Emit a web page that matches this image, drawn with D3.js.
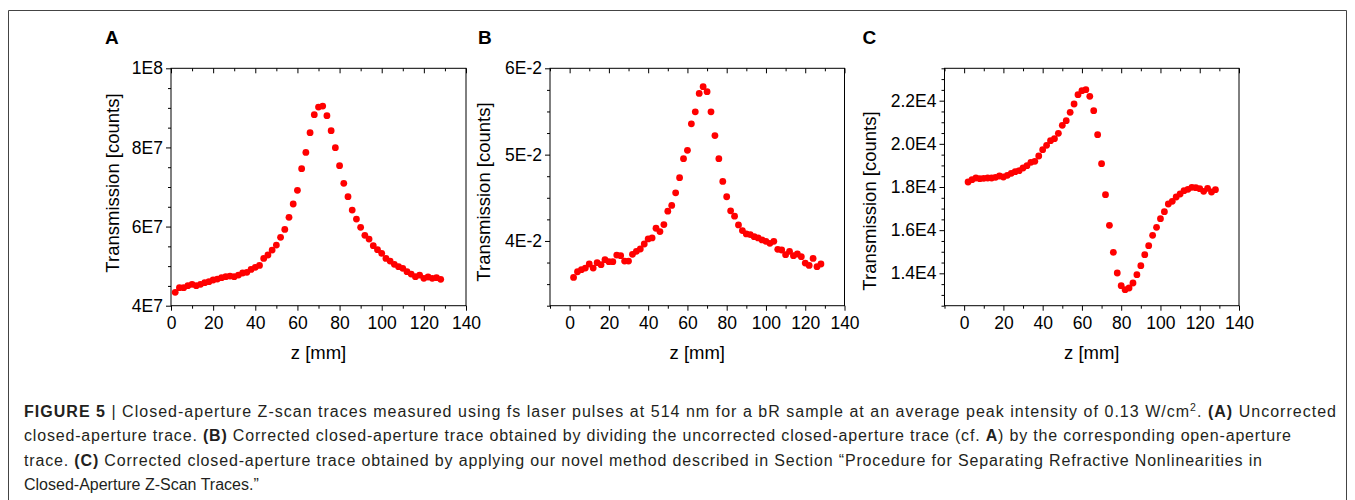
<!DOCTYPE html>
<html>
<head>
<meta charset="utf-8">
<script src="https://cdn.jsdelivr.net/npm/d3@7"></script>
<style>
  body { margin: 0; background: #fff; }
  svg { display: block; }
  text { font-family: "Liberation Sans", Arial, Helvetica, sans-serif; }
</style>
</head>
<body>
<svg id="chart" width="1355" height="500"></svg>
<script>
// ---------------- DATA ----------------
const zPositions = [2,4,6,8,10,12,14,16,18,20,22,24,26,28,30,32,34,36,38,40,42,44,46,48,50,52,54,56,58,60,62,64,
  66,68,70,72,74,76,78,80,82,84,86,88,90,92,94,96,98,100,102,104,106,108,110,112,114,116,118,120,122,124,126,128];

// Panel A: uncorrected closed-aperture trace [counts]
const transmissionA = [4.337e7,4.455e7,4.455e7,4.505e7,4.539e7,4.505e7,4.539e7,4.581e7,4.607e7,4.649e7,4.674e7,4.708e7,
  4.733e7,4.750e7,4.733e7,4.775e7,4.826e7,4.843e7,4.918e7,4.969e7,5.019e7,5.196e7,5.281e7,5.407e7,5.533e7,5.727e7,
  5.929e7,6.233e7,6.570e7,6.915e7,7.463e7,7.875e7,8.372e7,8.827e7,9.021e7,9.046e7,8.802e7,8.423e7,7.993e7,7.538e7,
  7.092e7,6.755e7,6.418e7,6.190e7,5.980e7,5.778e7,5.685e7,5.516e7,5.415e7,5.323e7,5.196e7,5.129e7,5.045e7,4.986e7,
  4.944e7,4.859e7,4.800e7,4.733e7,4.775e7,4.691e7,4.725e7,4.691e7,4.708e7,4.666e7];

// Panel B: corrected by open-aperture division
const transmissionB = [0.03578,0.03643,0.03667,0.03686,0.03733,0.03686,0.03748,0.03725,0.03783,0.03760,0.03760,0.03837,
  0.03829,0.03767,0.03767,0.03845,0.03880,0.03907,0.03965,0.04023,0.04035,0.04147,0.04109,0.04190,0.04345,0.04411,
  0.04558,0.04733,0.04953,0.05050,0.05357,0.05496,0.05709,0.05787,0.05729,0.05496,0.05221,0.04953,0.04690,0.04512,
  0.04349,0.04287,0.04186,0.04120,0.04081,0.04074,0.04050,0.04035,0.04012,0.03996,0.03973,0.03996,0.03903,0.03895,
  0.03841,0.03880,0.03829,0.03849,0.03818,0.03744,0.03717,0.03798,0.03702,0.03733];

// Panel C: corrected by the novel method
const transmissionC = [18232,18340,18417,18386,18402,18417,18417,18448,18510,18463,18541,18633,18710,18757,18880,18988,
  19143,19189,19436,19730,19931,20147,20239,20486,20857,21073,21459,21846,22278,22463,22510,22201,21537,20425,19081,
  17645,16224,14973,14015,13429,13243,13320,13552,13938,14355,14865,15282,15761,16131,16533,16857,17212,17336,17537,
  17676,17830,17892,17985,17969,17923,17799,17938,17768,17876];

// Tick values and labels
const xTicksA = [0,20,40,60,80,100,120,140];
const xTickLabelsA = ["0","20","40","60","80","100","120","140"];
const xTicksBC = [0,20,40,60,80,100,120,140];
const xTickLabelsBC = ["0","20","40","60","80","100","120","140"];
const yTicksA = [4e7,6e7,8e7,1e8];
const yTickLabelsA = ["4E7","6E7","8E7","1E8"];
const yTicksB = [0.04,0.05,0.06];
const yTickLabelsB = ["4E-2","5E-2","6E-2"];
const yTicksC = [14000,16000,18000,20000,22000];
const yTickLabelsC = ["1.4E4","1.6E4","1.8E4","2.0E4","2.2E4"];

const panelLetters = ["A","B","C"];
const xTitle = "z [mm]";
const yTitle = "Transmission [counts]";

// ---------------- LAYOUT ----------------
const svg = d3.select("#chart");
const plotTop = 68.3, plotBottom = 305.7;
const panels = [
  { letter: panelLetters[0], values: transmissionA, x0: 171, x1: 466, xDomain: [0,140], xMinorStep: 10,
    yDomain: [4e7,1e8], yMinorStep: 5e6, yTicks: yTicksA, yLabels: yTickLabelsA,
    xTicks: xTicksA, xLabels: xTickLabelsA, letterX: 105, yTitleX: 113, yTitleY: 183 },
  { letter: panelLetters[1], values: transmissionB, x0: 550, x1: 844.5, xDomain: [-10,140], xMinorStep: 10,
    yDomain: [0.0325,0.06], yMinorStep: 0.0025, yTicks: yTicksB, yLabels: yTickLabelsB,
    xTicks: xTicksBC, xLabels: xTickLabelsBC, letterX: 478, yTitleX: 484, yTitleY: 192 },
  { letter: panelLetters[2], values: transmissionC, x0: 944.5, x1: 1239, xDomain: [-10,140], xMinorStep: 10,
    yDomain: [12500,23500], yMinorStep: 500, yTicks: yTicksC, yLabels: yTickLabelsC,
    xTicks: xTicksBC, xLabels: xTickLabelsBC, letterX: 862.5, yTitleX: 870, yTitleY: 201 }
];

const tickFont = "17.5px";
const majorLen = 5, minorLen = 3;

function styleAxis(g) {
  g.selectAll("path.domain").remove();
  g.selectAll(".tick line").attr("stroke", "#000").attr("stroke-width", 1);
  g.selectAll(".tick text").attr("fill", "#000").style("font-size", tickFont)
    .style("font-family", '"Liberation Sans", Arial, sans-serif');
}

function rangeTicks(d0, d1, step) {
  const out = [];
  const n = Math.round((d1 - d0) / step);
  for (let i = 0; i <= n; i++) out.push(d0 + i * step);
  return out;
}

panels.forEach(p => {
  const x = d3.scaleLinear().domain(p.xDomain).range([p.x0, p.x1]);
  const y = d3.scaleLinear().domain(p.yDomain).range([plotBottom, plotTop]);
  const g = svg.append("g");

  const xMinor = rangeTicks(p.xDomain[0], p.xDomain[1], p.xMinorStep).filter(v => !p.xTicks.includes(v));
  const yMinor = rangeTicks(p.yDomain[0], p.yDomain[1], p.yMinorStep)
    .filter(v => !p.yTicks.some(t => Math.abs(t - v) < p.yMinorStep * 0.01));

  // bottom axis (outward)
  g.append("g").attr("transform", `translate(0,${plotBottom})`)
    .call(d3.axisBottom(x).tickValues(p.xTicks).tickSize(majorLen).tickPadding(5.5)
      .tickFormat((d, i) => p.xLabels[i]))
    .call(styleAxis);
  g.append("g").attr("transform", `translate(0,${plotBottom})`)
    .call(d3.axisBottom(x).tickValues(xMinor).tickSize(minorLen).tickFormat(""))
    .call(styleAxis);
  // top axis (ticks pointing into plot)
  g.append("g").attr("transform", `translate(0,${plotTop})`)
    .call(d3.axisBottom(x).tickValues(p.xTicks).tickSize(majorLen).tickFormat(""))
    .call(styleAxis);
  g.append("g").attr("transform", `translate(0,${plotTop})`)
    .call(d3.axisBottom(x).tickValues(xMinor).tickSize(minorLen).tickFormat(""))
    .call(styleAxis);
  // left axis (outward)
  g.append("g").attr("transform", `translate(${p.x0},0)`)
    .call(d3.axisLeft(y).tickValues(p.yTicks).tickSize(majorLen).tickPadding(3)
      .tickFormat((d, i) => p.yLabels[i]))
    .call(styleAxis);
  g.append("g").attr("transform", `translate(${p.x0},0)`)
    .call(d3.axisLeft(y).tickValues(yMinor).tickSize(minorLen).tickFormat(""))
    .call(styleAxis);

  // frame
  g.append("rect").attr("x", p.x0).attr("y", plotTop)
    .attr("width", p.x1 - p.x0).attr("height", plotBottom - plotTop)
    .attr("fill", "none").attr("stroke", "#000").attr("stroke-width", 1);

  // data points
  g.append("g").selectAll("circle").data(p.values).join("circle")
    .attr("cx", (d, i) => x(zPositions[i]))
    .attr("cy", d => y(d))
    .attr("r", 3.4)
    .attr("fill", "#ff0000");

  // axis titles
  g.append("text").attr("x", (p.x0 + p.x1) / 2).attr("y", 359)
    .attr("text-anchor", "middle").style("font-size", "18.5px").attr("fill", "#000")
    .text(xTitle);
  g.append("text")
    .attr("transform", `translate(${p.yTitleX},${p.yTitleY}) rotate(-90)`)
    .attr("text-anchor", "middle").attr("dy", "0.35em")
    .style("font-size", "18.5px").attr("fill", "#000")
    .text(yTitle);

  // panel letter
  g.append("text").attr("x", p.letterX).attr("y", 44)
    .style("font-size", "19px").style("font-weight", "bold").attr("fill", "#000")
    .text(p.letter);
});

// outer figure border (left, top, right)
svg.append("path").attr("d", "M8.5,500 V10.5 H1346.5 V500")
  .attr("fill", "none").attr("stroke", "#444").attr("stroke-width", 1);

// ---------------- CAPTION ----------------
const captionLines = [
  { len: 1312, segs: [["FIGURE 5", "b"], [" | ", ""],
    ["Closed-aperture Z-scan traces measured using fs laser pulses at 514 nm for a bR sample at an average peak intensity of 0.13 W/cm", ""],
    ["2", "sup"], [". ", "after"], ["(A)", "b"], [" Uncorrected", ""]] },
  { len: 1267, segs: [["closed-aperture trace. ", ""], ["(B)", "b"],
    [" Corrected closed-aperture trace obtained by dividing the uncorrected closed-aperture trace (cf. ", ""],
    ["A", "b"], [") by the corresponding open-aperture", ""]] },
  { len: 1238, segs: [["trace. ", ""], ["(C)", "b"],
    [" Corrected closed-aperture trace obtained by applying our novel method described in Section \u201CProcedure for Separating Refractive Nonlinearities in", ""]] },
  { len: null, segs: [["Closed-Aperture Z-Scan Traces.\u201D", ""]] }
];
const capY = [416.5, 441, 465.5, 490];
captionLines.forEach((line, li) => {
  const t = svg.append("text").attr("x", 24).attr("y", capY[li])
    .style("font-size", "16px").attr("fill", "#231f20");
  if (line.len) t.attr("textLength", line.len).attr("lengthAdjust", "spacing");
  line.segs.forEach(([s, f]) => {
    const ts = t.append("tspan").text(s);
    if (f === "b") ts.style("font-weight", "bold");
    if (f === "sup") ts.style("font-size", "10.5px").attr("dy", "-6");
    if (f === "after") ts.attr("dy", "6");
  });
});
</script>
</body>
</html>
